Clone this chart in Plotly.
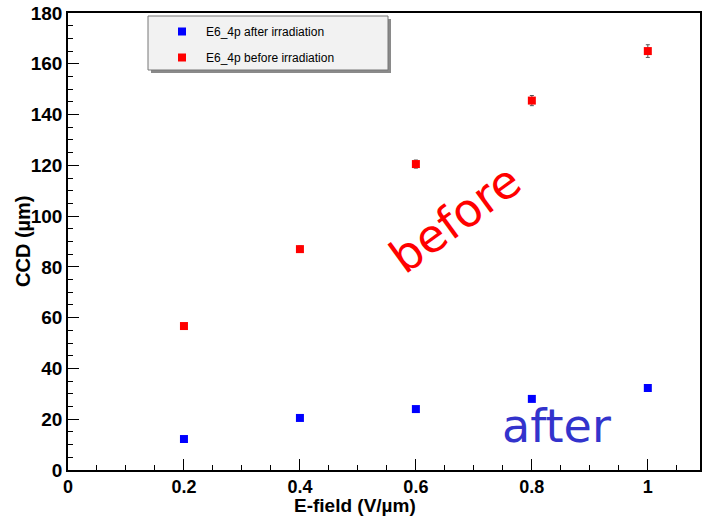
import plotly.graph_objects as go

# data
efield = [0.2, 0.4, 0.6, 0.8, 1.0]
ccd_after = [12.2, 20.5, 24.0, 28.0, 32.3]
ccd_after_err = [0.8, 0.8, 0.8, 0.9, 1.0]
ccd_before = [56.7, 87.0, 120.5, 145.5, 165.0]
ccd_before_err = [1.0, 1.2, 1.6, 2.0, 2.5]
x_ticks = [0, 0.2, 0.4, 0.6, 0.8, 1]
x_ticklabels = ["0", "0.2", "0.4", "0.6", "0.8", "1"]
y_ticks = [0, 20, 40, 60, 80, 100, 120, 140, 160, 180]

W, H = 704, 519
L, R, T, B = 68, 4, 13, 49
pw, ph = W - L - R, H - T - B

def px(xp):
    return (xp - L) / pw

def py(yp):
    return 1 - (yp - T) / ph

fig = go.Figure()
fig.add_trace(go.Scatter(
    x=efield, y=ccd_after, mode="markers", name="E6_4p after irradiation",
    marker=dict(symbol="square", size=8, color="#0000ff"),
    error_y=dict(type="data", array=ccd_after_err, color="#555555", thickness=1, width=2),
    legendgroup="a"))
fig.add_trace(go.Scatter(
    x=efield, y=ccd_before, mode="markers", name="E6_4p before irradiation",
    marker=dict(symbol="square", size=8, color="#ff0000"),
    error_y=dict(type="data", array=ccd_before_err, color="#555555", thickness=1, width=2),
    legendgroup="b"))

tickfont = dict(family="Liberation Sans, Arial", size=18, color="black", weight="bold")

fig.update_layout(
    width=W, height=H,
    margin=dict(l=L, r=R, t=T, b=B, autoexpand=False),
    paper_bgcolor="white", plot_bgcolor="white",
    showlegend=True,
    legend=dict(x=px(158), y=py(17), xanchor="left", yanchor="top",
                bgcolor="rgba(0,0,0,0)", borderwidth=0,
                font=dict(family="Liberation Sans Narrow, Liberation Sans, Arial", size=12, color="black"),
                tracegroupgap=7, itemwidth=38),
    xaxis=dict(range=[0, 1.09], showgrid=False, zeroline=False, automargin=False,
               showline=True, linecolor="black", linewidth=1.5, mirror=True,
               tickmode="array", tickvals=x_ticks, ticktext=x_ticklabels,
               ticks="inside", ticklen=11, tickcolor="black", tickwidth=1,
               ticklabelstandoff=0,
               minor=dict(dtick=0.05, ticks="inside", ticklen=5, tickcolor="black", tickwidth=1),
               tickfont=tickfont),
    yaxis=dict(range=[0, 180], showgrid=False, zeroline=False, automargin=False,
               showline=True, linecolor="black", linewidth=1.5, mirror=True,
               tickmode="array", tickvals=y_ticks,
               ticks="inside", ticklen=11, tickcolor="black", tickwidth=1,
               minor=dict(dtick=5, ticks="inside", ticklen=5, tickcolor="black", tickwidth=1),
               tickfont=dict(family="Liberation Sans, Arial", size=19, color="black", weight="bold")),
)

# legend box with shadow
fig.add_shape(type="rect", xref="paper", yref="paper", layer="below",
              x0=px(151), x1=px(391), y0=py(73), y1=py(19),
              fillcolor="#8a8a8a", line=dict(width=0))
fig.add_shape(type="rect", xref="paper", yref="paper", layer="below",
              x0=px(148), x1=px(388), y0=py(70), y1=py(16),
              fillcolor="#f2f2f2", line=dict(color="#777777", width=1))

fig.add_annotation(x=0.667, y=99.0, xref="x", yref="y", text="before", showarrow=False,
                   textangle=-36, xanchor="center", yanchor="middle",
                   font=dict(family="DejaVu Sans", size=46, color="#ff0000"))
fig.add_annotation(x=0.842, y=17.5, xref="x", yref="y", text="after", showarrow=False,
                   xanchor="center", yanchor="middle",
                   font=dict(family="DejaVu Sans", size=46, color="#3333cc"))

fig.add_annotation(x=px(355), y=py(505), xref="paper", yref="paper", text="E-field (V/µm)",
                   showarrow=False, xanchor="center", yanchor="middle",
                   font=dict(family="Liberation Sans, Arial", size=19, color="black", weight="bold"))
fig.add_annotation(x=px(23), y=py(241), xref="paper", yref="paper", text="CCD (µm)",
                   showarrow=False, textangle=-90, xanchor="center", yanchor="middle",
                   font=dict(family="Liberation Sans, Arial", size=20, color="black", weight="bold"))

fig.write_html("out.html", config={"displayModeBar": False},
               post_script="document.body.style.margin='0';document.body.style.overflow='hidden';")
